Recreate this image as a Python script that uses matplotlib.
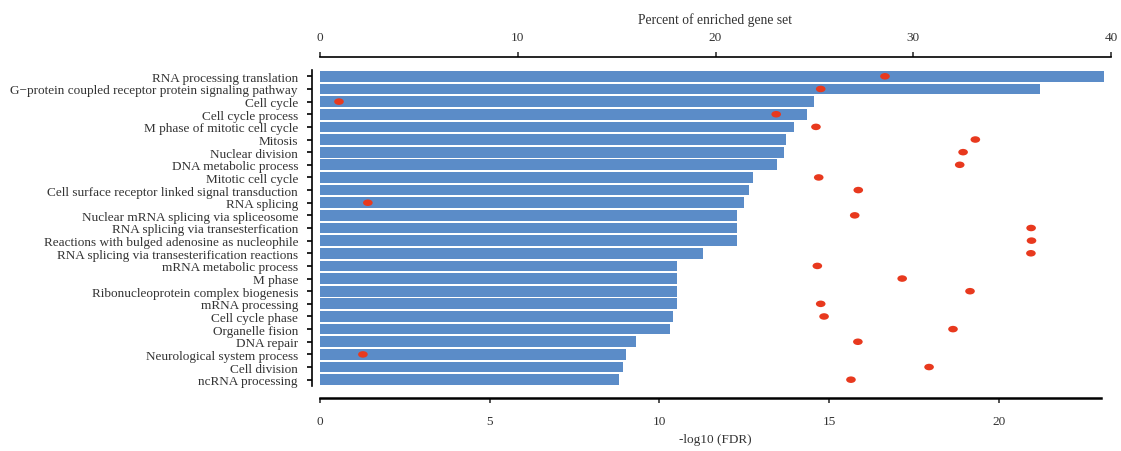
import matplotlib
matplotlib.use("Agg")
import matplotlib.pyplot as plt
from matplotlib.path import Path
from matplotlib.transforms import Affine2D
import numpy as np

terms = [
    "RNA processing translation",
    "G\u2212protein coupled receptor protein signaling pathway",
    "Cell cycle",
    "Cell cycle process",
    "M phase of mitotic cell cycle",
    "Mitosis",
    "Nuclear division",
    "DNA metabolic process",
    "Mitotic cell cycle",
    "Cell surface receptor linked signal transduction",
    "RNA splicing",
    "Nuclear mRNA splicing via spliceosome",
    "RNA splicing via transesterfication",
    "Reactions with bulged adenosine as nucleophile",
    "RNA splicing via transesterification reactions",
    "mRNA metabolic process",
    "M phase",
    "Ribonucleoprotein complex biogenesis",
    "mRNA processing",
    "Cell cycle phase",
    "Organelle fision",
    "DNA repair",
    "Neurological system process",
    "Cell division",
    "ncRNA processing",
]

neg_log_fdr = [23.1, 21.2, 14.56, 14.35, 13.97, 13.74, 13.68, 13.47, 12.74, 12.65,
               12.5, 12.29, 12.29, 12.29, 11.29, 10.53, 10.53, 10.53, 10.53, 10.41,
               10.32, 9.32, 9.0, 8.94, 8.82]

percent_enriched = [28.57, 25.32, 0.96, 23.07, 25.08, 33.14, 32.52, 32.35, 25.22, 27.22,
                    2.42, 27.04, 35.96, 35.98, 35.95, 25.15, 29.44, 32.87, 25.32, 25.49,
                    32.01, 27.2, 2.17, 30.8, 26.85]

plt.rcParams["font.family"] = ["Liberation Serif", "DejaVu Serif"]

W, H = 1121, 452
PX = 0.72  # points per pixel at dpi 100
fig = plt.figure(figsize=(W / 100, H / 100), dpi=100)
ax = fig.add_axes([320 / W, 1 - 387 / H, (1111 - 320) / W, (387 - 71) / H])

y = np.arange(len(terms))
ax.barh(y, neg_log_fdr, height=0.85, color="#5b8cc8", zorder=2)
ax.set_ylim(len(terms) - 0.5, -0.5)
ax.set_xlim(0, 23.3)
ax.set_yticks(y)
ax.set_yticklabels(terms)
ax.set_xticks([0, 5, 10, 15, 20])
ax.tick_params(axis="x", labelsize=9.5, colors="#333333", length=5 * PX, width=1.2, pad=12 * PX)
ax.tick_params(axis="y", labelsize=9.5, labelcolor="#333333", length=5 * PX, width=1.2, pad=9 * PX)
ax.set_xlabel("-log10 (FDR)", fontsize=9.5, color="#333333", labelpad=4)

for side in ["top", "right"]:
    ax.spines[side].set_visible(False)
ax.spines["left"].set_position(("outward", 8 * PX))
ax.spines["bottom"].set_position(("outward", 12 * PX))
ax.spines["bottom"].set_bounds(0, 23.0)
ax.spines["left"].set_linewidth(1.2)
ax.spines["bottom"].set_linewidth(1.8)

ax2 = ax.twiny()
ellipse = Path.unit_circle().transformed(Affine2D().scale(1.0, 0.68))
ax2.scatter(percent_enriched, y, marker=ellipse, s=48, color="#e8391e",
            edgecolors="none", zorder=3)
ax2.set_xlim(0, 40)
ax2.set_xticks([0, 10, 20, 30, 40])
ax2.tick_params(axis="x", labelsize=9.5, colors="#333333", length=5 * PX, width=1.2, pad=9 * PX)
ax2.set_xlabel("Percent of enriched gene set", fontsize=9.8, color="#333333", labelpad=6)
for side in ["bottom", "left", "right"]:
    ax2.spines[side].set_visible(False)
ax2.spines["top"].set_position(("outward", 13 * PX))
ax2.spines["top"].set_linewidth(1.2)

fig.savefig("out.png", dpi=100)
